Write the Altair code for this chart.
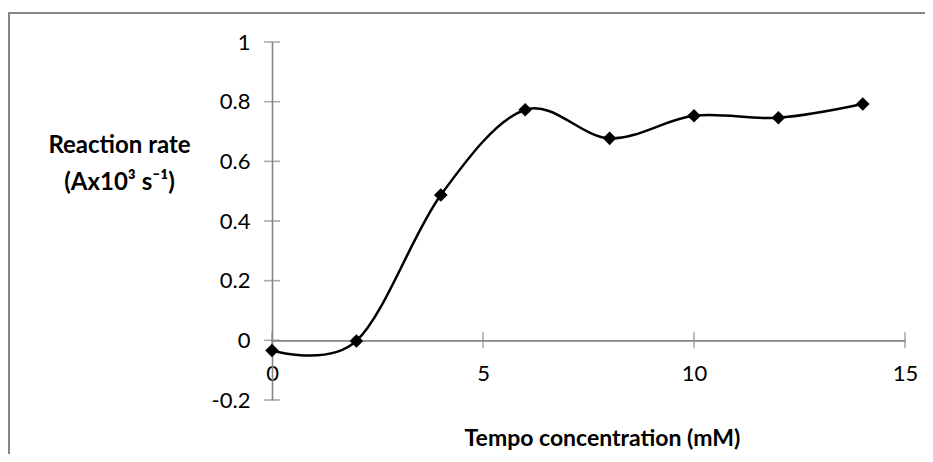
import altair as alt
import pandas as pd

# Data
tempo_mM = [0, 2, 4, 6, 8, 10, 12, 14]
reaction_rate = [-0.034, -0.002, 0.487, 0.773, 0.677, 0.753, 0.746, 0.792]

x_ticks = [0, 5, 10, 15]
y_ticks = [-0.2, 0, 0.2, 0.4, 0.6, 0.8, 1]

x_title = "Tempo concentration (mM)"
y_title = ["Reaction rate", "(Ax10³ s⁻¹)"]

df = pd.DataFrame({"x": tempo_mM, "y": reaction_rate})
xt = pd.DataFrame({"v": x_ticks})
yt = pd.DataFrame({"v": y_ticks})

GRAY = "#868686"
FONT = "Lato"
W, H = 633, 358

xscale = alt.Scale(domain=[0, 15], nice=False, zero=False)
yscale = alt.Scale(domain=[-0.2, 1], nice=False, zero=False)

y_zero_offset = -(H - H * (1 / 1.2))

base = alt.Chart(df)

line = base.mark_line(interpolate="cardinal", color="black", strokeWidth=2.5).encode(
    x=alt.X("x:Q", scale=xscale,
            axis=alt.Axis(values=x_ticks, tickSize=0, domainColor=GRAY, domainWidth=1.6,
                          grid=False, labelFont=FONT, labelFontSize=22, labelColor="black",
                          labelPadding=23, offset=y_zero_offset, labelFlush=False,
                          labelExpr="'' + datum.value",
                          title=x_title, titleFont=FONT, titleFontSize=23, titleFontWeight="bold",
                          titleColor="black", titleX=330, titleY=98, titleBaseline="middle",
                          titleAnchor="start", titleAlign="center")),
    y=alt.Y("y:Q", scale=yscale,
            axis=alt.Axis(values=y_ticks, tickSize=0, domainColor=GRAY, domainWidth=1.6,
                          grid=False, labelFont=FONT, labelFontSize=22, labelColor="black",
                          labelPadding=22, labelFlush=False,
                          labelExpr="'' + datum.value",
                          title=y_title, titleFont=FONT, titleFontSize=24, titleFontWeight="bold",
                          titleColor="black", titleAngle=0, titleX=-153, titleY=103,
                          titleAlign="center", titleBaseline="middle", titleLineHeight=37,
                          titleAnchor="start")),
)

points = base.mark_point(shape="diamond", filled=True, color="black", size=185, opacity=1).encode(
    x=alt.X("x:Q", scale=xscale),
    y=alt.Y("y:Q", scale=yscale),
)

xtick_marks = alt.Chart(xt).mark_tick(orient="vertical", size=16, thickness=1.6, color=GRAY).encode(
    x=alt.X("v:Q", scale=xscale),
    y=alt.YDatum(0, scale=yscale),
)

ytick_marks = alt.Chart(yt).mark_tick(orient="horizontal", size=16, thickness=1.6, color=GRAY).encode(
    y=alt.Y("v:Q", scale=yscale),
    x=alt.XDatum(0, scale=xscale),
)

border = alt.Chart(alt.Data(values=[{"a": 1}])).mark_rect(
    fill=None, stroke=GRAY, strokeWidth=2, clip=False
).encode(
    x=alt.value(-263), y=alt.value(-29), x2=alt.value(3000), y2=alt.value(3000)
)

chart = alt.layer(border, xtick_marks, ytick_marks, line, points).properties(
    width=W, height=H,
    autosize=alt.AutoSizeParams(type="none"),
    padding={"left": 264, "top": 34, "right": 20, "bottom": 54},
    background="white",
).configure_view(stroke=None)

chart.save("out.html", embed_options={"renderer": "svg", "actions": False})
